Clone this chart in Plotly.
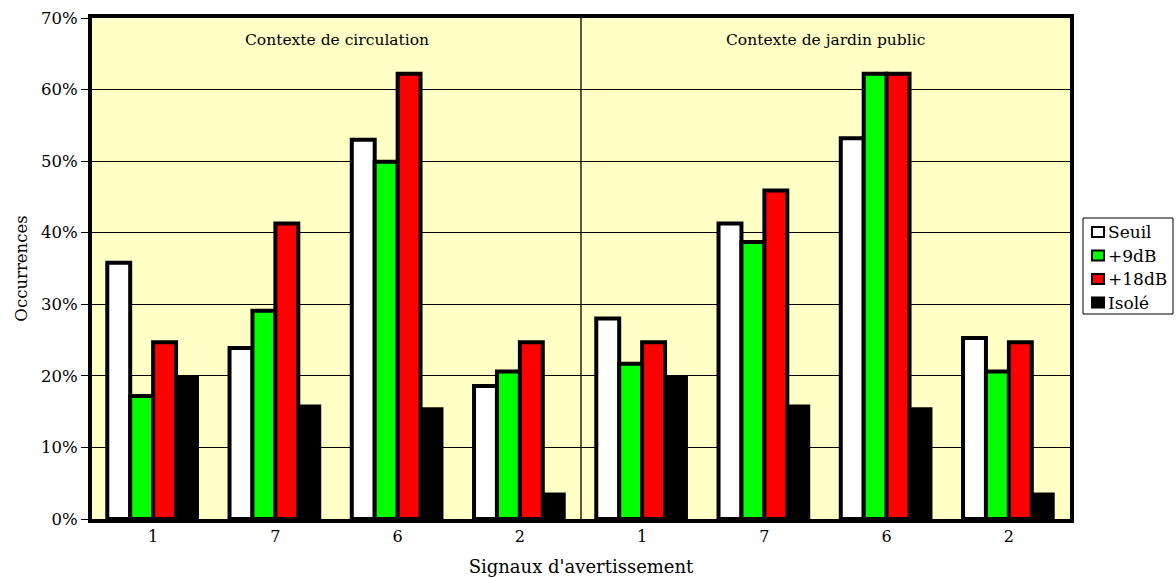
import plotly.graph_objects as go

# Warning signals, shown for two listening contexts
signals = ["1", "7", "6", "2", "1", "7", "6", "2"]
contexts = ["Contexte de circulation", "Contexte de jardin public"]

# Occurrence rates (%) per condition
seuil = [35.8, 23.9, 53.0, 18.6, 28.0, 41.3, 53.2, 25.3]
plus9 = [17.2, 29.1, 49.9, 20.6, 21.7, 38.7, 62.2, 20.6]
plus18 = [24.7, 41.3, 62.2, 24.7, 24.7, 45.9, 62.2, 24.7]
isole = [20.0, 16.0, 15.6, 3.7, 20.0, 16.0, 15.6, 3.7]

y_ticks = [0, 10, 20, 30, 40, 50, 60, 70]
y_tick_labels = ["0%", "10%", "20%", "30%", "40%", "50%", "60%", "70%"]

series = [
    ("Seuil", seuil, "#FFFFFF", 4),
    ("+9dB", plus9, "#00FF00", 4),
    ("+18dB", plus18, "#FF0000", 4),
    ("Isolé", isole, "#000000", 0),
]

SERIF = "DejaVu Serif, Liberation Serif, serif"
W, H = 1176, 578
M_L, M_R, M_T, M_B = 92, 106, 18, 59
PLOT_W = W - M_L - M_R
PLOT_H = H - M_T - M_B


def px_x(x):
    # page pixel -> paper x
    return (x - M_L) / PLOT_W


def px_y(y):
    # page pixel -> paper y
    return (H - M_B - y) / PLOT_H


positions = list(range(len(signals)))

fig = go.Figure()
for name, vals, color, lw in series:
    fig.add_trace(go.Bar(
        name=name,
        x=positions,
        y=vals,
        showlegend=False,
        marker=dict(color=color, line=dict(color="#000000", width=lw)),
    ))

fig.update_layout(
    width=W,
    height=H,
    margin=dict(l=M_L, r=M_R, t=M_T, b=M_B, autoexpand=False),
    paper_bgcolor="#FFFFFF",
    plot_bgcolor="#FFFFC6",
    barmode="group",
    bargap=0.25,
    bargroupgap=0,
    font=dict(family=SERIF, color="#000000", size=15),
    xaxis=dict(
        range=[-0.5, 7.5],
        tickmode="array",
        tickvals=positions,
        ticktext=signals,
        showgrid=False,
        showline=True, linecolor="#000000", linewidth=4, mirror=True,
        ticks="", zeroline=False,
        tickfont=dict(family=SERIF, size=16),
        title=dict(text="Signaux d'avertissement", font=dict(family=SERIF, size=18), standoff=16),
    ),
    yaxis=dict(
        range=[0, 70],
        tickmode="array",
        tickvals=y_ticks,
        ticktext=y_tick_labels,
        showgrid=True, gridcolor="#000000", gridwidth=1.3,
        showline=True, linecolor="#000000", linewidth=4, mirror=True,
        ticks="outside", ticklen=7, tickwidth=1.3, tickcolor="#000000",
        zeroline=False,
        tickfont=dict(family=SERIF, size=16.5),
        title=dict(text="Occurrences", font=dict(family=SERIF, size=16.5), standoff=10),
    ),
)

# Divider between the two contexts
fig.add_shape(type="line", xref="x", yref="paper", x0=3.5, x1=3.5, y0=0, y1=1,
              line=dict(color="#000000", width=1.3), layer="below")

# Context headers
for cx, label in zip([1.5, 5.5], contexts):
    fig.add_annotation(x=cx, y=0.956, xref="x", yref="paper", text=label,
                       showarrow=False, yanchor="middle",
                       font=dict(family=SERIF, size=15.5, color="#000000"))

# Legend box with swatches
box_l, box_r, box_t, box_b = 1083, 1173, 218, 314
fig.add_shape(type="rect", xref="paper", yref="paper",
              x0=px_x(box_l), x1=px_x(box_r), y0=px_y(box_b), y1=px_y(box_t),
              line=dict(color="#000000", width=1), fillcolor="#FFFFFF")
row_y0, row_step = 232, 23.5
for i, (name, _, color, _) in enumerate(series):
    cy = row_y0 + i * row_step
    fig.add_shape(type="rect", xref="paper", yref="paper",
                  x0=px_x(1092), x1=px_x(1104), y0=px_y(cy + 5), y1=px_y(cy - 5),
                  line=dict(color="#000000", width=2), fillcolor=color)
    fig.add_annotation(x=px_x(1106), y=px_y(cy), xref="paper", yref="paper",
                       text=name, showarrow=False, xanchor="left", yanchor="middle",
                       font=dict(family=SERIF, size=17, color="#000000"))

fig.write_html("out.html")
